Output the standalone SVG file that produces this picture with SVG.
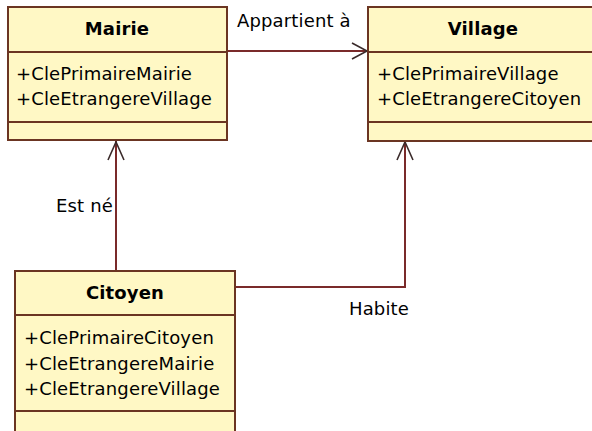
<svg xmlns="http://www.w3.org/2000/svg" width="592" height="431" viewBox="0 0 592 431">
<defs>
<style>
.box{fill:#FFF8C5;stroke:#6B3522;stroke-width:2}
.div{stroke:#6B3522;stroke-width:2}
.t{font-family:"DejaVu Sans",Verdana,sans-serif;font-size:18px;fill:#000;letter-spacing:0.15px}
.title{font-weight:bold;text-anchor:middle}
.conn{fill:none;stroke:#7A2A2A;stroke-width:2}
.arr{fill:none;stroke:#3A2A2A;stroke-width:1.6}
</style>
</defs>
<rect width="592" height="431" fill="#fff"/>
<g id="connectors">
<path class="conn" d="M227,51 H368"/>
<path class="arr" d="M352,43 L367,51 L352,59"/>
<text class="t" x="237" y="27">Appartient à</text>
<path class="conn" d="M116,271 V141"/>
<path class="arr" d="M108,160 L116,142 L124,160"/>
<text class="t" x="56" y="212">Est né</text>
<path class="conn" d="M235,287 H405 V141"/>
<path class="arr" d="M397,160 L405,142 L413,160"/>
<text class="t" x="349" y="315">Habite</text>
</g>
<g id="Mairie">
<rect class="box" x="8" y="7" width="219" height="133"/>
<line class="div" x1="8" y1="52" x2="227" y2="52"/>
<line class="div" x1="8" y1="122" x2="227" y2="122"/>
<text class="t title" x="117" y="35">Mairie</text>
<text class="t" x="16" y="80">+ClePrimaireMairie</text>
<text class="t" x="16" y="105">+CleEtrangereVillage</text>
</g>
<g id="Village">
<rect class="box" x="368" y="7" width="232" height="134"/>
<line class="div" x1="368" y1="52" x2="600" y2="52"/>
<line class="div" x1="368" y1="122" x2="600" y2="122"/>
<text class="t title" x="483" y="35">Village</text>
<text class="t" x="377" y="80">+ClePrimaireVillage</text>
<text class="t" x="377" y="105">+CleEtrangereCitoyen</text>
</g>
<g id="Citoyen">
<rect class="box" x="15" y="271" width="220" height="170"/>
<line class="div" x1="15" y1="315" x2="235" y2="315"/>
<line class="div" x1="15" y1="411" x2="235" y2="411"/>
<text class="t title" x="125" y="299">Citoyen</text>
<text class="t" x="24" y="344">+ClePrimaireCitoyen</text>
<text class="t" x="24" y="370">+CleEtrangereMairie</text>
<text class="t" x="24" y="395">+CleEtrangereVillage</text>
</g>
</svg>
